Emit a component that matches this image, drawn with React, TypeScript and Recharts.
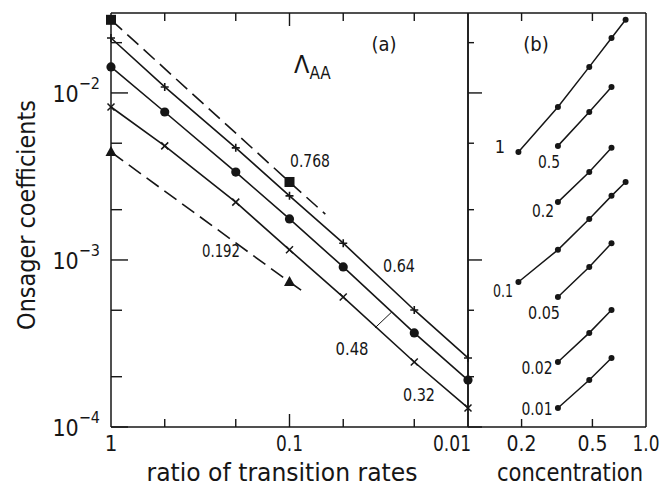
import React from 'react';
import { LineChart, Line, XAxis, YAxis } from 'recharts';

// ratio of transition rates (x of panel a) and the concentrations (curve parameter in a, x in b)
const ratios = [1, 0.5, 0.2, 0.1, 0.05, 0.02, 0.01];
const ratioLabels = ['1', '0.5', '0.2', '0.1', '0.05', '0.02', '0.01'];
const concentrations = [0.192, 0.32, 0.48, 0.64, 0.768];

// Onsager coefficient Lambda_AA, one list per concentration, one value per ratio
const lambda0192 = [0.00443, null, null, 0.000738, null, null, null];
const lambda032 = [0.00824, 0.00482, 0.00222, 0.00115, 0.0006, 0.000245, 0.00013];
const lambda048 = [0.01432, 0.00769, 0.00336, 0.00176, 0.000908, 0.000366, 0.000191];
const lambda064 = [0.02133, 0.01086, 0.00469, 0.00242, 0.00126, 0.000502, 0.000259];
const lambda0768 = [0.0274, null, null, 0.00293, null, null, null];

// where the dashed lines of 0.768 and 0.192 run out (no marker there)
const dashEnd0768 = { r: 0.063, v: 0.00188 };
const dashEnd0192 = { r: 0.08, v: 0.000625 };
// small leader line from the "0.48" label to its curve
const leader048 = [
  { r: 0.0332, v: 0.000392 },
  { r: 0.0267, v: 0.000489 },
];

const yTicks = [1e-4, 2e-4, 5e-4, 1e-3, 2e-3, 5e-3, 1e-2, 2e-2];
const ratioTicks = [1, 0.5, 0.2, 0.1, 0.05, 0.02, 0.01];
const ratioInnerTicks = [0.5, 0.2, 0.1, 0.05, 0.02];
const concTicks = [0.2, 0.5, 1.0];
const concTickLabels = ['0.2', '0.5', '1.0'];
const concInnerTicks = [0.2, 0.5];

const INK = '#161616';
const FONT = '"DejaVu Sans Condensed", "Liberation Sans Narrow", "Roboto Condensed", sans-serif';
const W = 672;
const H = 487;
const LEFT = 111;
const SPLIT = 468; // frame line between panel (a) and panel (b)
const RIGHT = 646;
const TOP = 13;
const BOTTOM = 427;

const byConc = [lambda0192, lambda032, lambda048, lambda064, lambda0768];

const seriesA = (vals: (number | null)[]) =>
  ratios
    .map((r, i) => ({ r, v: vals[i] }))
    .filter((d) => d.v != null) as { r: number; v: number; plain?: boolean }[];

const seriesB = ratios.map((_, i) =>
  concentrations
    .map((c, k) => ({ c, v: byConc[k][i] }))
    .filter((d) => d.v != null)
);

const isDecade = (v: number) =>
  Math.abs(Math.log10(v) - Math.round(Math.log10(v))) < 1e-9;

type Shape = 'square' | 'plus' | 'circle' | 'cross' | 'triangle' | 'dot';

const makeDot = (shape: Shape) => (props: any) => {
  const { cx, cy, payload, index } = props;
  if (cx == null || cy == null || (payload && payload.plain)) return <g key={index} />;
  switch (shape) {
    case 'square':
      return <rect key={index} x={cx - 5} y={cy - 5} width={10} height={10} fill={INK} />;
    case 'plus':
      return (
        <path key={index} d={`M${cx - 4},${cy}H${cx + 4}M${cx},${cy - 4}V${cy + 4}`} stroke={INK} strokeWidth={1.6} />
      );
    case 'circle':
      return <circle key={index} cx={cx} cy={cy} r={4.6} fill={INK} />;
    case 'cross':
      return (
        <path
          key={index}
          d={`M${cx - 3.5},${cy - 3.5}L${cx + 3.5},${cy + 3.5}M${cx - 3.5},${cy + 3.5}L${cx + 3.5},${cy - 3.5}`}
          stroke={INK}
          strokeWidth={1.5}
        />
      );
    case 'triangle':
      return <path key={index} d={`M${cx},${cy - 6}L${cx + 5.5},${cy + 4}L${cx - 5.5},${cy + 4}Z`} fill={INK} />;
    default:
      return <circle key={index} cx={cx} cy={cy} r={3} fill={INK} />;
  }
};

// y ticks point into the panel; dir = +1 -> to the right, -1 -> to the left
const yTick = (dir: number, major: number, minor: number, withLabel: boolean) => (props: any) => {
  const { payload, index } = props;
  const x = Number(props.x);
  const y = Number(props.y);
  const v = payload.value;
  const exp = Math.round(Math.log10(v));
  const len = isDecade(v) ? major : minor;
  return (
    <g key={index}>
      <rect x={dir > 0 ? x : x - len} y={y - 0.7} width={len} height={1.4} fill={INK} />
      {withLabel && isDecade(v) && (
        <text x={x - 11} y={y + 9} textAnchor="end" fontFamily={FONT} fontSize={23} fill={INK}>
          10
          <tspan dy={-13} fontSize={16}>
            {'\u2212' + Math.abs(exp)}
          </tspan>
        </text>
      )}
    </g>
  );
};

// x tick labels
const xLabel =
  (labelFor: (v: number, i: number) => string, widths: number[] = [], lastEnd = false) =>
  (props: any) => {
    const { payload, index, visibleTicksCount } = props;
    const x = Number(props.x);
    const y = Number(props.y);
    const label = labelFor(payload.value, index);
    const atEnd = lastEnd && index === visibleTicksCount - 1;
    const tl = widths[index];
    if (!label) return <g key={index} />;
    return (
      <text
        key={index}
        x={atEnd ? x + 3 : x}
        y={y + 24}
        textAnchor={atEnd ? 'end' : 'middle'}
        fontFamily={FONT}
        fontSize={22}
        fill={INK}
        {...(tl ? { textLength: tl, lengthAdjust: 'spacingAndGlyphs' } : {})}
      >
        {label}
      </text>
    );
  };

const axisCommon = {
  type: 'number' as const,
  scale: 'log' as const,
  tickSize: 0,
  tickMargin: 0,
  interval: 0 as const,
  tickLine: false,
  axisLine: { stroke: INK, strokeWidth: 1.5 },
};

const yDomain = [1e-4, 0.0301];

const lineCommon = {
  type: 'linear' as const,
  dataKey: 'v',
  stroke: INK,
  strokeWidth: 1.6,
  isAnimationActive: false,
  activeDot: false,
  xAxisId: 'xb',
  yAxisId: 'yl',
};

// every axis is 1px thick, so the margins are 1px less than the frame position
function PanelA() {
  const d0768 = [...seriesA(lambda0768), { ...dashEnd0768, plain: true }];
  const d0192 = [...seriesA(lambda0192), { ...dashEnd0192, plain: true }];
  return (
    <LineChart width={SPLIT + 8} height={H} margin={{ top: TOP - 1, bottom: H - BOTTOM - 1, left: LEFT - 1, right: 7 }}>
      <XAxis
        {...axisCommon}
        xAxisId="xb"
        dataKey="r"
        orientation="bottom"
        height={1}
        domain={[0.01, 1]}
        reversed
        ticks={ratioTicks}
        tick={xLabel((v) => (isDecade(v) ? String(v) : ''), [0, 0, 0, 27, 0, 0, 38], true)}
      />
      <XAxis {...axisCommon} xAxisId="xt" dataKey="r" orientation="top" height={1} domain={[0.01, 1]} reversed tick={false} />
      <YAxis {...axisCommon} yAxisId="yl" orientation="left" width={1} domain={yDomain} ticks={yTicks} tick={yTick(1, 17, 11, true)} />
      <YAxis {...axisCommon} yAxisId="yr" orientation="right" width={1} domain={yDomain} ticks={yTicks} tick={yTick(-1, 14, 6, false)} />
      <Line {...lineCommon} data={d0768} strokeDasharray="15 7" dot={makeDot('square')} />
      <Line {...lineCommon} data={seriesA(lambda064)} dot={makeDot('plus')} />
      <Line {...lineCommon} data={seriesA(lambda048)} dot={makeDot('circle')} />
      <Line {...lineCommon} data={seriesA(lambda032)} dot={makeDot('cross')} />
      <Line {...lineCommon} data={d0192} strokeDasharray="15 7" dot={makeDot('triangle')} />
      <Line {...lineCommon} data={leader048} strokeWidth={1} dot={false} />
    </LineChart>
  );
}

// panel (b) chart starts 8px left of the split line
function PanelB() {
  return (
    <LineChart
      width={W - SPLIT + 8}
      height={H}
      margin={{ top: TOP - 1, bottom: H - BOTTOM - 1, left: 7, right: W - RIGHT - 1 }}
    >
      <XAxis
        {...axisCommon}
        xAxisId="xb"
        dataKey="c"
        orientation="bottom"
        height={1}
        domain={[0.1, 1]}
        ticks={concTicks}
        tick={xLabel((_, i) => concTickLabels[i], [30, 30, 27])}
      />
      <XAxis {...axisCommon} xAxisId="xt" dataKey="c" orientation="top" height={1} domain={[0.1, 1]} tick={false} />
      <YAxis {...axisCommon} yAxisId="yl" orientation="left" width={1} domain={yDomain} ticks={yTicks} tick={yTick(1, 14, 6, false)} />
      <YAxis {...axisCommon} yAxisId="yr" orientation="right" width={1} domain={yDomain} ticks={yTicks} tick={yTick(-1, 16, 10, false)} />
      {seriesB.map((data, i) => (
        <Line key={ratioLabels[i]} {...lineCommon} data={data} strokeWidth={1.5} dot={makeDot('dot')} />
      ))}
    </LineChart>
  );
}

// inward x tick marks on the top and bottom frame, same log mapping as the axes' domains
const ratioX = (t: number) => LEFT + (-Math.log10(t) / 2) * (SPLIT - LEFT);
const concX = (c: number) => SPLIT + (Math.log10(c) + 1) * (RIGHT - SPLIT);

function FrameTicks() {
  const marks = [
    ...ratioInnerTicks.map((t) => ({ x: ratioX(t), len: isDecade(t) ? 13 : 8 })),
    ...concInnerTicks.map((c) => ({ x: concX(c), len: 8 })),
  ];
  return (
    <svg width={W} height={H} style={{ position: 'absolute', left: 0, top: 0, pointerEvents: 'none' }}>
      {marks.map((m, i) => (
        <path
          key={i}
          d={`M${m.x},${TOP}v${m.len}M${m.x},${BOTTOM}v${-m.len}`}
          stroke={INK}
          strokeWidth={1.4}
          fill="none"
        />
      ))}
    </svg>
  );
}

const txt = { fontFamily: FONT, fill: INK, lengthAdjust: 'spacingAndGlyphs' } as const;

function Annotations() {
  return (
    <svg width={W} height={H} style={{ position: 'absolute', left: 0, top: 0 }}>
      <text {...txt} fontSize={25} textLength={230} textAnchor="middle" transform="translate(35,215) rotate(-90)">
        Onsager coefficients
      </text>
      <text {...txt} fontSize={25} textLength={271} x={282} y={481} textAnchor="middle">
        ratio of transition rates
      </text>
      <text {...txt} fontSize={25} textLength={146} x={570} y={481} textAnchor="middle">
        concentration
      </text>
      <text {...txt} fontSize={20} x={384} y={51} textAnchor="middle">(a)</text>
      <text {...txt} fontSize={20} x={536} y={51} textAnchor="middle">(b)</text>
      <text {...txt} fontSize={25} x={294} y={73}>
        Λ<tspan fontSize={17} dy={6}>AA</tspan>
      </text>
      <g fontSize={18} textAnchor="middle">
        <text {...txt} textLength={40} x={310} y={167}>0.768</text>
        <text {...txt} textLength={32} x={399} y={272}>0.64</text>
        <text {...txt} textLength={33} x={352} y={355}>0.48</text>
        <text {...txt} textLength={32} x={419} y={401}>0.32</text>
        <text {...txt} textLength={38} x={221} y={257}>0.192</text>
        <text {...txt} x={500} y={153}>1</text>
        <text {...txt} textLength={22} x={549} y={168}>0.5</text>
        <text {...txt} textLength={22} x={543} y={217}>0.2</text>
        <text {...txt} textLength={20} x={503} y={297}>0.1</text>
        <text {...txt} textLength={32} x={544} y={319}>0.05</text>
        <text {...txt} textLength={31} x={537} y={374}>0.02</text>
        <text {...txt} textLength={31} x={537} y={415}>0.01</text>
      </g>
    </svg>
  );
}

export default function App() {
  return (
    <div style={{ position: 'absolute', left: 0, top: 0, width: W, height: H, background: '#fff' }}>
      <Annotations />
      <div style={{ position: 'absolute', left: 0, top: 0 }}>
        <PanelA />
      </div>
      <div style={{ position: 'absolute', left: SPLIT - 8, top: 0 }}>
        <PanelB />
      </div>
      <FrameTicks />
    </div>
  );
}
